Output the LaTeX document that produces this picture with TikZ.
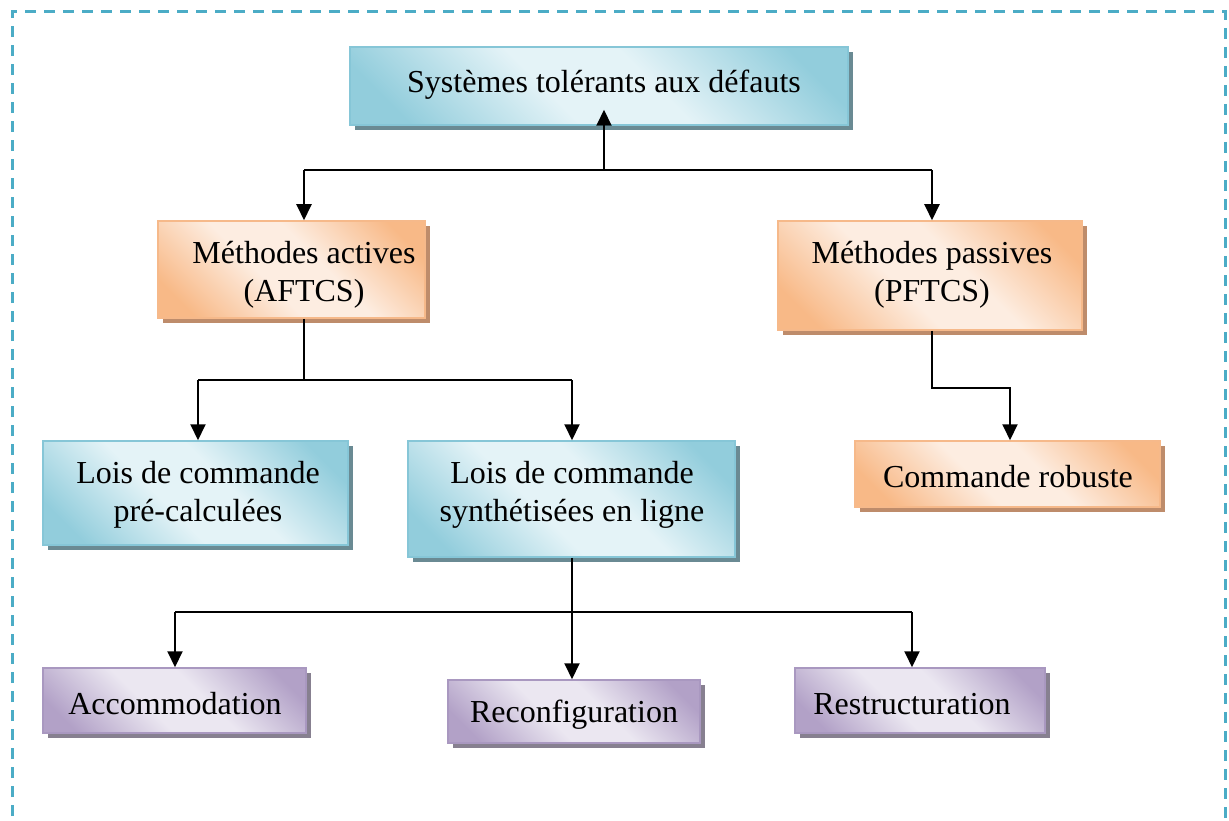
\documentclass[tikz,border=0pt]{standalone}
\usepackage{fontspec}
\setmainfont{Liberation Serif}
\usetikzlibrary{arrows.meta,shadows}

% Office-like palette: dark edge tone, light band tone, border and shadow
\definecolor{bdk}{HTML}{92CDDC}
\definecolor{blt}{HTML}{E4F3F7}
\definecolor{bbd}{HTML}{86C6D7}
\definecolor{bsh}{HTML}{6A8A93}
\definecolor{odk}{HTML}{F8B987}
\definecolor{olt}{HTML}{FDEDE1}
\definecolor{obd}{HTML}{F6B98A}
\definecolor{osh}{HTML}{BE8C6B}
\definecolor{pdk}{HTML}{B2A1C7}
\definecolor{plt}{HTML}{EBE7F1}
\definecolor{pbd}{HTML}{A998C0}
\definecolor{psh}{HTML}{878090}
\definecolor{frame}{HTML}{4BACC6}

% diagonal band gradients: dark corners, light middle
\pgfdeclarehorizontalshading{bluediag}{100bp}{color(0bp)=(bdk); color(22bp)=(bdk); color(43bp)=(blt); color(57bp)=(blt); color(78bp)=(bdk); color(100bp)=(bdk)}
\pgfdeclarehorizontalshading{orangediag}{100bp}{color(0bp)=(odk); color(22bp)=(odk); color(43bp)=(olt); color(57bp)=(olt); color(78bp)=(odk); color(100bp)=(odk)}
\pgfdeclarehorizontalshading{purplediag}{100bp}{color(0bp)=(pdk); color(22bp)=(pdk); color(43bp)=(plt); color(57bp)=(plt); color(78bp)=(pdk); color(100bp)=(pdk)}

\tikzset{
  box/.style={rectangle, inner sep=0pt, line width=1.5pt, shading angle=45},
  bluebox/.style={box, draw=bbd, shading=bluediag,
    general shadow={shadow xshift=5pt, shadow yshift=-5pt, fill=bsh, draw=none}},
  orangebox/.style={box, draw=obd, shading=orangediag,
    general shadow={shadow xshift=5pt, shadow yshift=-5pt, fill=osh, draw=none}},
  purplebox/.style={box, draw=pbd, shading=purplediag,
    general shadow={shadow xshift=5pt, shadow yshift=-5pt, fill=psh, draw=none}},
  lbl/.style={align=center, inner sep=0pt, font=\fontsize{32}{38}\selectfont},
  link/.style={line width=2pt, black},
  arr/.style={link, -{Triangle[length=16pt,width=15pt]}},
}

\begin{document}
\begin{tikzpicture}[x=1pt, y=-1pt]
\useasboundingbox (0,0) rectangle (1229,821);

% outer dashed frame (open at the bottom of the page)
\draw[frame, line width=3pt, dash pattern=on 11pt off 8pt]
  (12,835) -- (12,12) -- (1225,12) -- (1225,835);

% boxes
\node[bluebox, minimum width=498pt, minimum height=78pt] (sys) at (599,86) {};
\node[orangebox, minimum width=267pt, minimum height=97pt] (act) at (291.5,269.5) {};
\node[orangebox, minimum width=304pt, minimum height=109pt] (pas) at (930,275.5) {};
\node[bluebox, minimum width=305pt, minimum height=104pt] (pre) at (195.5,493) {};
\node[bluebox, minimum width=327pt, minimum height=116pt] (syn) at (571.5,499) {};
\node[orangebox, minimum width=305pt, minimum height=66pt] (rob) at (1007.5,474) {};
\node[purplebox, minimum width=263pt, minimum height=65pt] (acc) at (174.5,700.5) {};
\node[purplebox, minimum width=252pt, minimum height=63pt] (rec) at (574,711.5) {};
\node[purplebox, minimum width=250pt, minimum height=65pt] (res) at (920,700.5) {};

% labels
\node[lbl] (sys-t) at (604,85) {Systèmes tolérants aux défauts};
\node[lbl] (act-t) at (304,275) {Méthodes actives\\(AFTCS)};
\node[lbl] (pas-t) at (932,275) {Méthodes passives\\(PFTCS)};
\node[lbl] (pre-t) at (198,495) {Lois de commande\\pré-calculées};
\node[lbl] (syn-t) at (572,495) {Lois de commande\\synthétisées en ligne};
\node[lbl] (rob-t) at (1008,477) {Commande robuste};
\node[lbl] (acc-t) at (175,704) {Accommodation};
\node[lbl] (rec-t) at (574,715) {Reconfiguration};
\node[lbl] (res-t) at (912,704) {Restructuration};

% junction points of the tree
\coordinate (j1) at (604,170);
\coordinate (j1l) at (304,170);
\coordinate (j1r) at (932,170);
\coordinate (j2) at (304,380);
\coordinate (j2l) at (198,380);
\coordinate (j2r) at (572,380);
\coordinate (j3) at (932,388);
\coordinate (j3r) at (1010,388);
\coordinate (j4) at (572,612);
\coordinate (j4l) at (175,612);
\coordinate (j4r) at (912,612);

% top level
\draw[arr] (j1) -- ([yshift=16pt]sys.south -| j1);
\draw[link] (j1l) -- (j1r);
\draw[arr] (j1l) -- (act.north -| j1l);
\draw[arr] (j1r) -- (pas.north -| j1r);

% active branch
\draw[link] (act.south -| j2) -- (j2);
\draw[link] (j2l) -- (j2r);
\draw[arr] (j2l) -- (pre.north -| j2l);
\draw[arr] (j2r) -- (syn.north -| j2r);

% passive branch
\draw[arr] (pas.south -| j3) -- (j3) -- (j3r) -- (rob.north -| j3r);

% online synthesis branch
\draw[link] (syn.south -| j4) -- (j4);
\draw[link] (j4l) -- (j4r);
\draw[arr] (j4l) -- (acc.north -| j4l);
\draw[arr] (j4) -- (rec.north -| j4);
\draw[arr] (j4r) -- (res.north -| j4r);
\end{tikzpicture}
\end{document}
